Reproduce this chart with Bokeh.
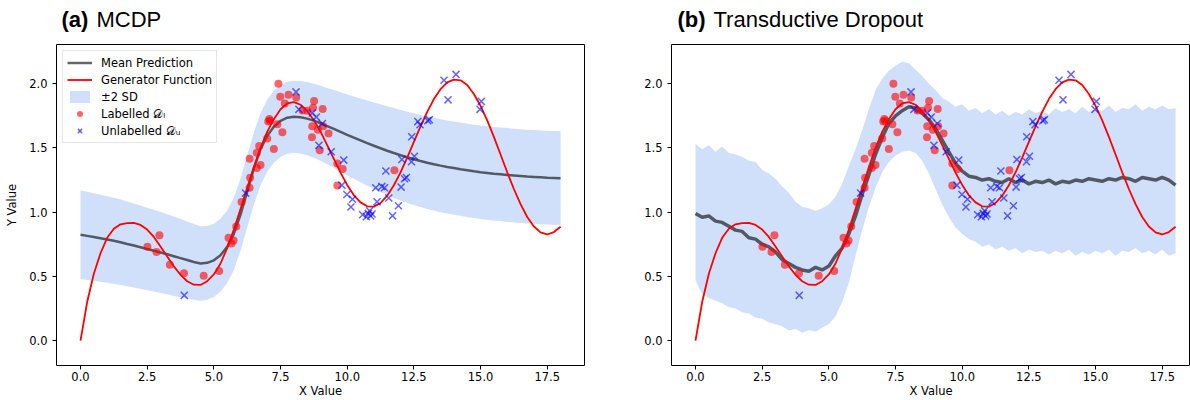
from bokeh.plotting import figure
from bokeh.models import Range1d, FixedTicker, Legend, LegendItem
from bokeh.layouts import row, column
from bokeh.core.properties import value
from bokeh.embed import file_html
from bokeh.resources import INLINE

# ---------------- data ----------------
grid_x = [i * 0.25 for i in range(73)]  # 0 .. 18 step 0.25

generator_y = [
    0.000, 0.300, 0.520, 0.680, 0.800, 0.870, 0.905, 0.915, 0.917, 0.900,
    0.864, 0.807, 0.733, 0.654, 0.578, 0.512, 0.462, 0.435, 0.433, 0.462,
    0.515, 0.600, 0.720, 0.865, 1.025, 1.190, 1.350, 1.500, 1.625, 1.724,
    1.801, 1.846, 1.857, 1.836, 1.788, 1.716, 1.626, 1.522, 1.414, 1.308,
    1.212, 1.131, 1.076, 1.045, 1.043, 1.071, 1.128, 1.209, 1.310, 1.425,
    1.547, 1.668, 1.780, 1.880, 1.957, 2.010, 2.032, 2.026, 1.990, 1.920,
    1.827, 1.714, 1.586, 1.449, 1.310, 1.180, 1.062, 0.962, 0.888, 0.842,
    0.826, 0.845, 0.886]

mcdp_mean = [
    0.824, 0.815, 0.806, 0.797, 0.787, 0.777, 0.765, 0.752, 0.740, 0.727,
    0.713, 0.700, 0.686, 0.672, 0.657, 0.642, 0.627, 0.612, 0.600, 0.605,
    0.625, 0.665, 0.730, 0.830, 0.980, 1.160, 1.340, 1.490, 1.595, 1.665,
    1.710, 1.735, 1.742, 1.738, 1.728, 1.712, 1.692, 1.670, 1.648, 1.625,
    1.602, 1.580, 1.558, 1.537, 1.517, 1.497, 1.478, 1.460, 1.443, 1.427,
    1.412, 1.398, 1.385, 1.373, 1.362, 1.352, 1.343, 1.334, 1.326, 1.318,
    1.311, 1.305, 1.299, 1.294, 1.289, 1.285, 1.281, 1.277, 1.274, 1.271,
    1.268, 1.266, 1.264]

mcdp_two_sd = [
    0.345, 0.343, 0.341, 0.339, 0.337, 0.335, 0.333, 0.330, 0.327, 0.324,
    0.321, 0.318, 0.315, 0.312, 0.309, 0.305, 0.300, 0.295, 0.290, 0.287,
    0.285, 0.283, 0.282, 0.281, 0.280, 0.280, 0.280, 0.280, 0.280, 0.280,
    0.280, 0.280, 0.280, 0.282, 0.285, 0.288, 0.292, 0.297, 0.302, 0.308,
    0.314, 0.320, 0.326, 0.332, 0.337, 0.342, 0.346, 0.350, 0.353, 0.355,
    0.357, 0.359, 0.360, 0.361, 0.362, 0.362, 0.363, 0.363, 0.363, 0.363,
    0.364, 0.364, 0.364, 0.364, 0.365, 0.365, 0.365, 0.365, 0.365, 0.365,
    0.365, 0.365, 0.365]

td_mean = [
    0.99, 0.96, 0.97, 0.93, 0.92, 0.89, 0.86, 0.85, 0.80, 0.79,
    0.75, 0.73, 0.69, 0.63, 0.60, 0.57, 0.55, 0.54, 0.57, 0.55,
    0.58, 0.66, 0.72, 0.83, 0.97, 1.14, 1.29, 1.45, 1.58, 1.69,
    1.75, 1.79, 1.82, 1.81, 1.77, 1.72, 1.65, 1.56, 1.47, 1.38,
    1.32, 1.28, 1.27, 1.25, 1.26, 1.24, 1.23, 1.26, 1.23, 1.25,
    1.22, 1.24, 1.23, 1.25, 1.22, 1.24, 1.23, 1.25, 1.24, 1.26,
    1.25, 1.24, 1.26, 1.25, 1.27, 1.26, 1.24, 1.27, 1.26, 1.25,
    1.27, 1.25, 1.21]

td_upper = [
    1.53, 1.49, 1.52, 1.47, 1.51, 1.46, 1.45, 1.43, 1.40, 1.39,
    1.33, 1.30, 1.26, 1.20, 1.15, 1.08, 1.04, 1.03, 1.01, 1.03,
    1.06, 1.12, 1.22, 1.36, 1.49, 1.64, 1.80, 1.95, 2.04, 2.10,
    2.14, 2.17, 2.16, 2.11, 2.06, 2.00, 1.95, 1.89, 1.86, 1.82,
    1.84, 1.79, 1.81, 1.77, 1.80, 1.76, 1.79, 1.75, 1.78, 1.76,
    1.80, 1.77, 1.79, 1.76, 1.81, 1.78, 1.80, 1.77, 1.82, 1.78,
    1.80, 1.79, 1.83, 1.78, 1.81, 1.80, 1.84, 1.79, 1.82, 1.80,
    1.83, 1.80, 1.81]

td_lower = [
    0.47, 0.36, 0.33, 0.31, 0.29, 0.26, 0.25, 0.22, 0.21, 0.18,
    0.17, 0.14, 0.13, 0.11, 0.08, 0.09, 0.06, 0.08, 0.07, 0.10,
    0.13, 0.19, 0.30, 0.45, 0.66, 0.86, 1.04, 1.19, 1.31, 1.39,
    1.44, 1.47, 1.48, 1.46, 1.40, 1.30, 1.18, 1.06, 0.96, 0.88,
    0.83, 0.79, 0.77, 0.73, 0.75, 0.71, 0.73, 0.70, 0.72, 0.68,
    0.71, 0.69, 0.70, 0.67, 0.70, 0.68, 0.71, 0.66, 0.69, 0.67,
    0.70, 0.68, 0.71, 0.66, 0.70, 0.69, 0.72, 0.68, 0.70, 0.67,
    0.71, 0.66, 0.68]

labelled_x = [2.51, 2.85, 2.96, 3.35, 3.88, 4.62, 5.20, 5.55, 5.66, 5.74,
              5.84, 6.04, 6.34, 6.36, 6.61, 6.75, 6.34, 6.61, 6.70, 7.00,
              7.04, 7.08, 7.11, 7.25, 7.38, 7.57, 7.42, 7.49, 7.80, 7.66,
              8.09, 8.32, 8.50, 8.76, 9.08, 8.72, 8.69, 8.90, 9.10, 9.30,
              8.68, 8.97, 9.63, 9.83, 9.63, 11.77]
labelled_y = [0.730, 0.690, 0.820, 0.590, 0.525, 0.505, 0.542, 0.800, 0.755, 0.780,
              0.888, 1.078, 1.190, 1.267, 1.344, 1.366, 1.416, 1.462, 1.514, 1.574,
              1.705, 1.725, 1.712, 1.491, 1.685, 1.622, 2.000, 1.899, 1.914, 1.845,
              1.892, 1.792, 1.790, 1.866, 1.803, 1.812, 1.668, 1.641, 1.668, 1.613,
              1.582, 1.482, 1.379, 1.335, 1.207, 1.327]

unlabelled_x = [3.89, 6.19, 8.08, 8.19, 8.69, 8.84, 9.07, 8.94, 9.40, 9.87,
                9.80, 9.99, 10.20, 10.14, 10.58, 10.72, 10.79, 10.84, 10.88, 10.93,
                11.12, 11.07, 11.30, 11.40, 11.45, 11.56, 11.70, 11.92, 12.02, 12.15,
                12.22, 12.05, 12.41, 12.52, 12.42, 12.65, 12.73, 13.02, 13.08, 13.63,
                14.08, 13.78, 15.03, 14.98]
unlabelled_y = [0.352, 1.148, 1.936, 1.800, 1.772, 1.740, 1.690, 1.520, 1.470, 1.405,
                1.210, 1.137, 1.100, 1.040, 0.980, 0.965, 0.990, 1.010, 0.970, 0.985,
                1.080, 1.190, 1.200, 1.190, 1.320, 1.110, 0.971, 1.050, 1.195, 1.260,
                1.270, 1.410, 1.392, 1.435, 1.587, 1.705, 1.680, 1.712, 1.720, 2.027,
                2.072, 1.874, 1.862, 1.800]

x_ticks = [0.0, 2.5, 5.0, 7.5, 10.0, 12.5, 15.0, 17.5]
x_tick_labels = ["0.0", "2.5", "5.0", "7.5", "10.0", "12.5", "15.0", "17.5"]
y_ticks = [0.0, 0.5, 1.0, 1.5, 2.0]
y_tick_labels = ["0.0", "0.5", "1.0", "1.5", "2.0"]

legend_labels = ["Mean Prediction", "Generator Function", "\u00b12 SD",
                 "Labelled \U0001D49F\u2097", "Unlabelled \U0001D49F\u1D64"]
panel_titles = [("(a)", "MCDP"), ("(b)", "Transductive Dropout")]

# ---------------- styling ----------------
TICK_FONT = "DejaVu Sans"
FS = "11.5px"
TITLE_FONT = "Liberation Sans"
BAND = "cornflowerblue"

X_START = -0.9
Y_START, Y_END = -0.194, 2.305
PX_PER_X = 26.67
TITLE_H = 44
MAIN_H = 356
TITLE_MID = 24.8  # title vertical centre, measured up from the bottom of the title strip


def style_axis(ax, ticks, labels):
    ax.ticker = FixedTicker(ticks=ticks)
    ax.major_label_overrides = {float(t): l for t, l in zip(ticks, labels)}
    ax.major_tick_in = 0
    ax.major_tick_out = 4
    ax.minor_tick_in = 0
    ax.minor_tick_out = 0
    ax.major_tick_line_color = "black"
    ax.axis_line_color = None
    ax.major_label_text_font = TICK_FONT
    ax.major_label_text_font_size = FS
    ax.major_label_text_color = "black"
    ax.axis_label_text_font = TICK_FONT
    ax.axis_label_text_font_size = FS
    ax.axis_label_text_font_style = "normal"
    ax.axis_label_text_color = "black"


def make_fig(width, border_left, border_right, frame_w, ylabel):
    x_end = X_START + frame_w / PX_PER_X
    p = figure(width=width, height=MAIN_H, output_backend="svg", toolbar_location=None,
               x_range=Range1d(X_START, x_end), y_range=Range1d(Y_START, Y_END),
               min_border_left=border_left, min_border_right=border_right,
               min_border_top=0, min_border_bottom=30)
    p.grid.visible = False
    p.outline_line_color = "black"
    p.outline_line_width = 1
    p.background_fill_color = "white"
    p.border_fill_color = "white"
    style_axis(p.xaxis[0], x_ticks, x_tick_labels)
    style_axis(p.yaxis[0], y_ticks, y_tick_labels)
    p.xaxis[0].axis_label = "X Value"
    p.xaxis[0].major_label_standoff = 2
    p.xaxis[0].axis_label_standoff = 0
    p.yaxis[0].major_label_standoff = 5
    if ylabel:
        p.yaxis[0].axis_label = "Y Value"
        p.yaxis[0].axis_label_standoff = 7
    return p


def make_title(width, texts, x_bold, x_rest):
    t = figure(width=width, height=TITLE_H, output_backend="svg", toolbar_location=None,
               x_range=Range1d(0, width), y_range=Range1d(0, TITLE_H),
               x_axis_location=None, y_axis_location=None,
               min_border=0, min_border_left=0, min_border_right=0,
               min_border_top=0, min_border_bottom=0)
    t.grid.visible = False
    t.outline_line_color = None
    t.background_fill_color = "white"
    t.border_fill_color = "white"
    t.text(x=[x_bold], y=[TITLE_MID], text=[texts[0]], text_font=value(TITLE_FONT),
           text_font_size=value("22px"), text_font_style="bold",
           text_baseline="middle", text_align="left", text_color="black")
    t.text(x=[x_rest], y=[TITLE_MID], text=[texts[1]], text_font=value(TITLE_FONT),
           text_font_size=value("22px"), text_font_style="normal",
           text_baseline="middle", text_align="left", text_color="black")
    return t


def draw_points(p):
    r_lab = p.scatter(labelled_x, labelled_y, marker="circle", size=8,
                      fill_color="red", fill_alpha=0.6, line_color=None)
    r_unl = p.scatter(unlabelled_x, unlabelled_y, marker="x", size=10,
                      line_color="blue", line_alpha=0.6, line_width=1.5)
    return r_lab, r_unl


# ---------------- (a) MCDP ----------------
p1 = make_fig(624, 56, 40, 528, True)
mcdp_upper = [m + s for m, s in zip(mcdp_mean, mcdp_two_sd)]
mcdp_lower = [m - s for m, s in zip(mcdp_mean, mcdp_two_sd)]
r_band = p1.varea(x=grid_x, y1=mcdp_lower, y2=mcdp_upper, fill_color=BAND, fill_alpha=0.3)
r_mean = p1.line(grid_x, mcdp_mean, line_color="black", line_alpha=0.6, line_width=2.5)
r_gen = p1.line(grid_x, generator_y, line_color="red", line_width=1.8)
r_lab, r_unl = draw_points(p1)

legend = Legend(items=[
    LegendItem(label=legend_labels[0], renderers=[r_mean]),
    LegendItem(label=legend_labels[1], renderers=[r_gen]),
    LegendItem(label=legend_labels[2], renderers=[r_band]),
    LegendItem(label=legend_labels[3], renderers=[r_lab]),
    LegendItem(label=legend_labels[4], renderers=[r_unl]),
], location="top_left")
legend.margin = 6
legend.padding = 4
legend.spacing = 2
legend.glyph_width = 25
legend.glyph_height = 15
legend.label_height = 15
legend.label_standoff = 9
legend.label_text_font = TICK_FONT
legend.label_text_font_size = FS
legend.label_text_color = "black"
legend.border_line_color = "#cccccc"
legend.border_line_width = 1
legend.background_fill_color = "white"
legend.background_fill_alpha = 0.8
p1.add_layout(legend)

# ---------------- (b) Transductive Dropout ----------------
p2 = make_fig(566, 47, 0, 519, False)
p2.varea(x=grid_x, y1=td_lower, y2=td_upper, fill_color=BAND, fill_alpha=0.3)
p2.line(grid_x, td_mean, line_color="black", line_alpha=0.6, line_width=3.5)
p2.line(grid_x, generator_y, line_color="red", line_width=1.8)
draw_points(p2)

t1 = make_title(624, panel_titles[0], 61, 96)
t2 = make_title(566, panel_titles[1], 53, 89)

layout = column(row(t1, t2), row(p1, p2))
open("out.html", "w").write(file_html(layout, INLINE))
